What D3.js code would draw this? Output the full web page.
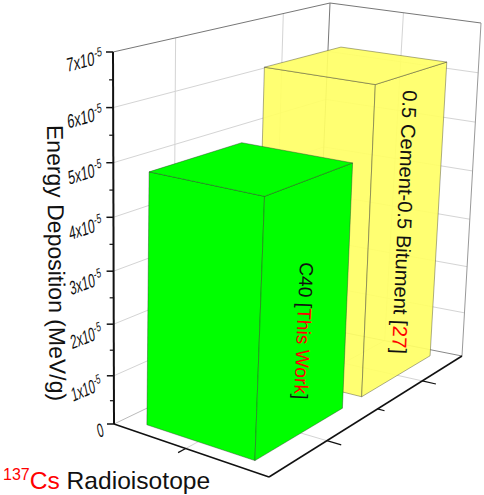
<!DOCTYPE html>
<html>
<head>
<meta charset="utf-8">
<script src="https://cdn.jsdelivr.net/npm/d3@7"></script>
<style>
  body { margin: 0; background: #fff; }
  text { font-family: "Liberation Sans", Arial, sans-serif; }
</style>
</head>
<body>
<div id="chart"></div>
<script>
// Data
var categories = ["C40", "0.5 Cement-0.5 Bitument"];
var depositions = [4.85e-5, 6.2e-5];
var barColors = ["#00ff00", "#ffff66"];
var barOpacity = [1, 0.9];
var yMajorTicks = [0, 1e-5, 2e-5, 3e-5, 4e-5, 5e-5, 6e-5, 7e-5];
var yMinorTicks = [0.5e-5, 1.5e-5, 2.5e-5, 3.5e-5, 4.5e-5, 5.5e-5, 6.5e-5];
var yTickLabels = ["0", "1x10", "2x10", "3x10", "4x10", "5x10", "6x10", "7x10"];
var rowMajorTicks = [0.5, 1.5];
var rowMinorTicks = [1];
var columnTicks = [0.5];

var width = 484, height = 495;

var svg = d3.select("#chart")
  .append("svg")
    .attr("width", width)
    .attr("height", height)
    .style("display", "block");

// Corners of the floor and of the ceiling of the box, in pixels
var floorQuad = [[114, 424], [269, 477], [462, 356], [316, 327]];
var topQuad = [[113, 52], [284, 80], [481, 23], [330, 3]];

// Unit square to quad, perspective mapping
function squareToQuad(q) {
  var dx1 = q[1][0] - q[2][0], dx2 = q[3][0] - q[2][0], sx = q[0][0] - q[1][0] + q[2][0] - q[3][0];
  var dy1 = q[1][1] - q[2][1], dy2 = q[3][1] - q[2][1], sy = q[0][1] - q[1][1] + q[2][1] - q[3][1];
  var den = dx1 * dy2 - dx2 * dy1;
  var g = (sx * dy2 - dx2 * sy) / den, h = (dx1 * sy - sx * dy1) / den;
  var a = q[1][0] - q[0][0] + g * q[1][0], b = q[3][0] - q[0][0] + h * q[3][0];
  var d = q[1][1] - q[0][1] + g * q[1][1], e = q[3][1] - q[0][1] + h * q[3][1];
  return function(u, v) {
    var w = g * u + h * v + 1;
    return [(a * u + b * v + q[0][0]) / w, (d * u + e * v + q[0][1]) / w];
  };
}
var floorMap = squareToQuad(floorQuad), topMap = squareToQuad(topQuad);

// The scales of the three axes
var colScale = d3.scaleLinear().domain([0, 1]).range([0, 1]);
var rowScale = d3.scaleLinear().domain([0, 2]).range([0, 1]);
var zScale = d3.scalePow().exponent(1.05).domain([0, 7e-5]).range([0, 1]);

// col, row in category units, z in MeV/g
function project(col, row, z) {
  var u = colScale(col), v = rowScale(row), t = zScale(z);
  var p0 = floorMap(u, v), p1 = topMap(u, v);
  return [p0[0] + (p1[0] - p0[0]) * t, p0[1] + (p1[1] - p0[1]) * t];
}

var poly = d3.line();
var zMax = 7e-5;

function seg(a, b, color, w) {
  svg.append("path").attr("d", poly([a, b])).attr("fill", "none")
    .attr("stroke", color).attr("stroke-width", w);
}

// Grid on the walls and the floor
yMajorTicks.slice(1, -1).forEach(function(z) {
  seg(project(0, 0, z), project(0, 2, z), "#d4d4d4", 1);
  seg(project(0, 2, z), project(1, 2, z), "#d4d4d4", 1);
});
rowMajorTicks.forEach(function(r) {
  seg(project(0, r, 0), project(0, r, zMax), "#d4d4d4", 1);
  seg(project(0, r, 0), project(1, r, 0), "#d4d4d4", 1);
});
columnTicks.forEach(function(c) {
  seg(project(c, 2, 0), project(c, 2, zMax), "#d4d4d4", 1);
  seg(project(c, 0, 0), project(c, 2, 0), "#d4d4d4", 1);
});

// Box edges behind the bars
seg(project(0, 0, zMax), project(0, 2, zMax), "#777", 1);
seg(project(0, 2, zMax), project(1, 2, zMax), "#777", 1);
seg(project(0, 2, 0), project(0, 2, zMax), "#777", 1);
seg(project(1, 2, 0), project(1, 2, zMax), "#999", 1);
seg(project(0, 0, 0), project(0, 2, 0), "#bbb", 1);
seg(project(0, 2, 0), project(1, 2, 0), "#888", 1);

// Bars, back row first
var halfCol = 0.35, halfRow = 0.4;
[1, 0].forEach(function(i) {
  var z = depositions[i];
  var c0 = 0.5 - halfCol, c1 = 0.5 + halfCol, r0 = i + 0.5 - halfRow, r1 = i + 0.5 + halfRow;
  var faces = [
    [[c0, r0, 0], [c1, r0, 0], [c1, r1, 0], [c0, r1, 0]],
    [[c0, r1, 0], [c1, r1, 0], [c1, r1, z], [c0, r1, z]],
    [[c0, r0, 0], [c0, r1, 0], [c0, r1, z], [c0, r0, z]],
    [[c0, r0, 0], [c1, r0, 0], [c1, r0, z], [c0, r0, z]],
    [[c1, r0, 0], [c1, r1, 0], [c1, r1, z], [c1, r0, z]],
    [[c0, r0, z], [c1, r0, z], [c1, r1, z], [c0, r1, z]]
  ];
  faces.forEach(function(f, k) {
    svg.append("path")
      .attr("d", poly(f.map(function(p) { return project(p[0], p[1], p[2]); })) + "Z")
      .attr("fill", barColors[i])
      .attr("fill-opacity", k < 3 ? 0.25 : barOpacity[i])
      .attr("stroke", k < 3 ? "none" : "#333")
      .attr("stroke-opacity", 0.5)
      .attr("stroke-width", 0.8);
  });
});

// Front axes
seg(project(0, 0, 0), project(0, 0, zMax), "#111", 2);
seg(project(0, 0, 0), project(1, 0, 0), "#111", 1.5);
seg(project(1, 0, 0), project(1, 2, 0), "#111", 1.5);

yMajorTicks.forEach(function(z, i) {
  var p = project(0, 0, z);
  seg([p[0] - 7, p[1]], p, "#111", 1.5);
  // label: leaning and squeezed like the 3D text in the original, shrinking toward the floor
  var lx = i == 0 ? 99 : 74 - i, ly = p[1] + (i == 0 ? 14 : 27 - i);
  var g = svg.append("g")
    .attr("transform", "translate(" + lx + "," + ly + ") rotate(" + (-24 + 1.4 * i) + ") skewX(-10) scale(" + (0.595 + 0.015 * i) + ",1)");
  var t = g.append("text").attr("font-size", 19).attr("fill", "#111").text(yTickLabels[i]);
  if (i > 0) t.append("tspan").attr("dy", -7).attr("font-size", 13).text("-5");
});
yMinorTicks.forEach(function(z) {
  var p = project(0, 0, z);
  seg([p[0] - 4, p[1]], p, "#111", 1.2);
});
rowMajorTicks.concat(rowMinorTicks).forEach(function(r) {
  var major = rowMajorTicks.indexOf(r) >= 0;
  seg(project(1, r, 0), project(major ? 1.08 : 1.04, r, 0), "#111", 1.2);
});
columnTicks.forEach(function(c) {
  seg(project(c, 0, 0), project(c, -0.06, 0), "#111", 1.2);
});

// Titles
svg.append("text")
  .attr("transform", "translate(47,125) rotate(89.4)")
  .attr("font-size", 23)
  .attr("fill", "#111")
  .text("Energy Deposition (MeV/g)");

var bottom = svg.append("text").attr("x", 3).attr("y", 489).attr("font-size", 24.6);
bottom.append("tspan").attr("fill", "#f00").attr("font-size", 16).attr("dy", -9).text("137");
bottom.append("tspan").attr("fill", "#f00").attr("dy", 9).text("Cs");
bottom.append("tspan").attr("fill", "#111").text(" Radioisotope");

// Bar labels
var label0 = svg.append("text")
  .attr("transform", "translate(300,262) rotate(92.5)")
  .attr("font-size", 19.2).attr("fill", "#111");
label0.append("tspan").text(categories[0] + " [");
label0.append("tspan").attr("fill", "#f00").text("This Work");
label0.append("tspan").text("]");

var label1 = svg.append("text")
  .attr("transform", "translate(403,90) rotate(92.4)")
  .attr("font-size", 20.2).attr("fill", "#111");
label1.append("tspan").text(categories[1] + " [");
label1.append("tspan").attr("fill", "#f00").text("27");
label1.append("tspan").text("]");
</script>
</body>
</html>
